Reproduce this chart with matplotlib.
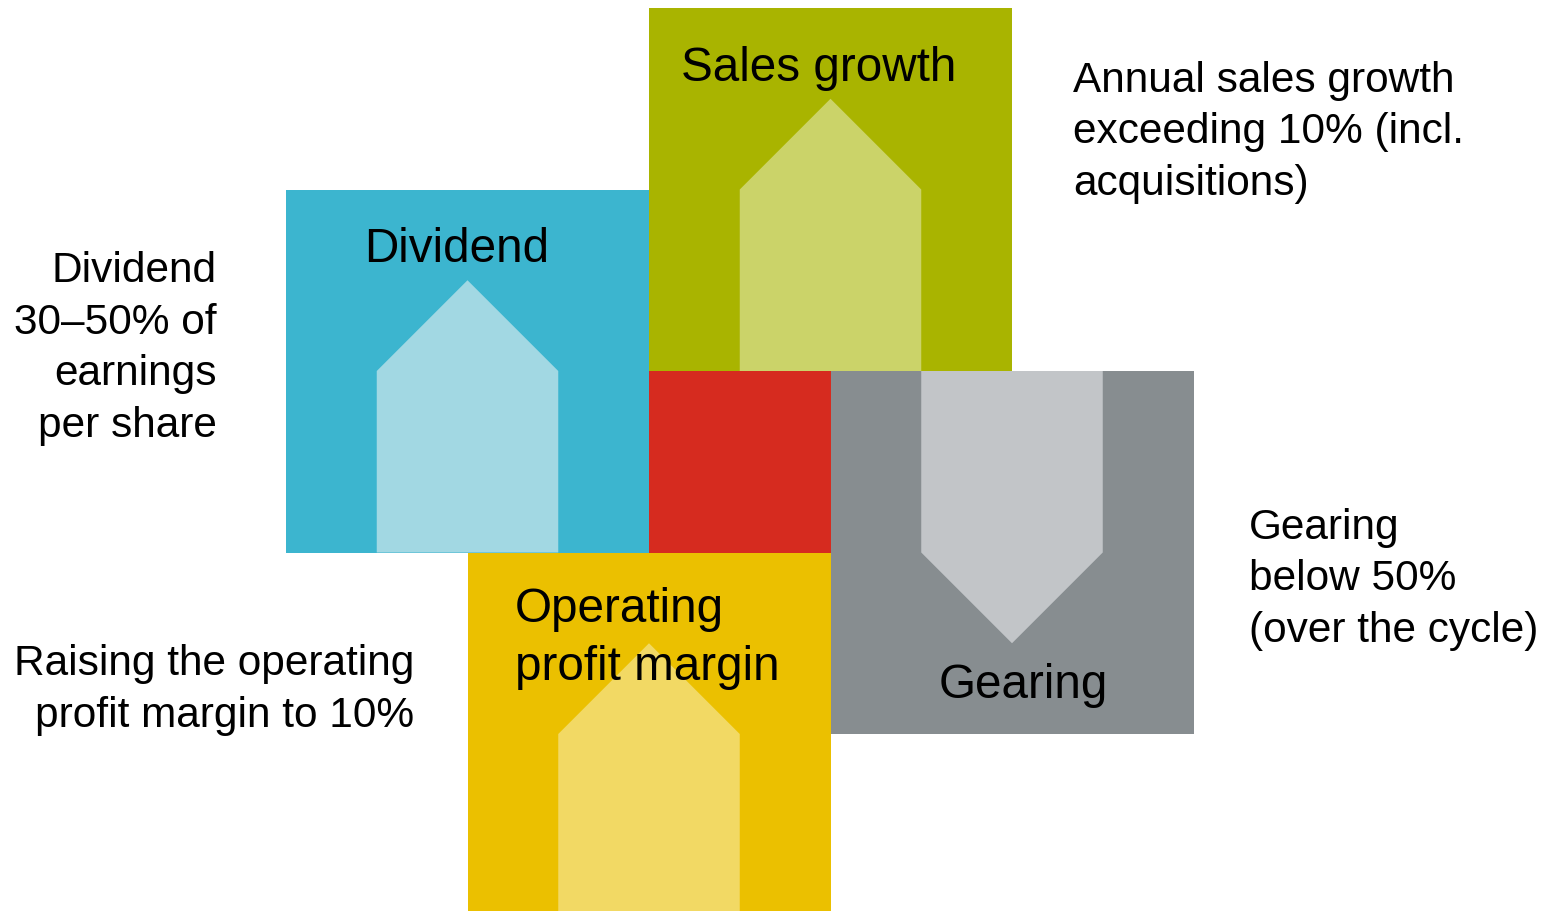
import matplotlib
matplotlib.use("Agg")
import matplotlib.pyplot as plt
from matplotlib.patches import Rectangle, Polygon

plt.rcParams['font.family'] = ['Liberation Sans', 'DejaVu Sans']

# ---- content ----
categories = ["Sales growth", "Dividend", "Gearing", "Operating profit margin"]
directions = ["up", "up", "down", "up"]
box_colors = ["#A9B400", "#3CB5CF", "#878D90", "#EBC000"]
arrow_colors = ["#CBD369", "#A2D8E3", "#C2C5C8", "#F2D964"]
center_color = "#D62B1F"
label_lines = [["Sales growth"], ["Dividend"], ["Gearing"], ["Operating", "profit margin"]]
descriptions = [
    ["Annual sales growth", "exceeding 10% (incl.", "acquisitions)"],
    ["Dividend", "30\u201350% of", "earnings", "per share"],
    ["Gearing", "below 50%", "(over the cycle)"],
    ["Raising the operating", "profit margin to 10%"],
]

# ---- layout ----
W, H = 1554, 911
fig = plt.figure(figsize=(W / 100, H / 100), dpi=100)
ax = fig.add_axes([0, 0, 1, 1])
ax.set_xlim(0, W)
ax.set_ylim(H, 0)
ax.axis('off')

x0, y0, u = 286, 8, 181.5
# grid positions (col,row) of each square's top-left, in units of u
grid = [(2, 0), (0, 1), (3, 2), (1, 3)]

for i, cat in enumerate(categories):
    c, r = grid[i]
    bx, by = x0 + c * u, y0 + r * u
    ax.add_patch(Rectangle((bx, by), 2 * u, 2 * u, facecolor=box_colors[i],
                           edgecolor='none', zorder=1))

# centre square
ax.add_patch(Rectangle((x0 + 2 * u, y0 + 2 * u), u, u, facecolor=center_color,
                       edgecolor='none', zorder=1))

for i, cat in enumerate(categories):
    c, r = grid[i]
    bx, by = x0 + c * u, y0 + r * u
    l, rr = bx + u / 2, bx + 1.5 * u
    mid = bx + u
    if directions[i] == "up":
        pts = [(l, by + 2 * u), (l, by + u), (mid, by + u / 2), (rr, by + u), (rr, by + 2 * u)]
    else:
        pts = [(l, by), (rr, by), (rr, by + u), (mid, by + 1.5 * u), (l, by + u)]
    ax.add_patch(Polygon(pts, closed=True, facecolor=arrow_colors[i],
                         edgecolor='none', zorder=2))

# box labels
fs_label = 34.3
ax.text(819, 81, label_lines[0][0], fontsize=fs_label, ha='center', va='baseline', zorder=3)
ax.text(457, 262, label_lines[1][0], fontsize=fs_label, ha='center', va='baseline', zorder=3)
ax.text(1023, 698, label_lines[2][0], fontsize=fs_label, ha='center', va='baseline', zorder=3)
for k, line in enumerate(label_lines[3]):
    ax.text(515, 622 + k * 58, line, fontsize=fs_label, ha='left', va='baseline', zorder=3)

# descriptions
fs_desc = 30.5
step = 51.5
desc_pos = [(1073, 92, 'left'), (217, 282, 'right'), (1249, 539, 'left'), (414, 675, 'right')]
for i, lines in enumerate(descriptions):
    x, yb, ha = desc_pos[i]
    for k, line in enumerate(lines):
        ax.text(x, yb + k * step, line, fontsize=fs_desc, ha=ha, va='baseline', zorder=3)

fig.savefig("out.png", dpi=100)
